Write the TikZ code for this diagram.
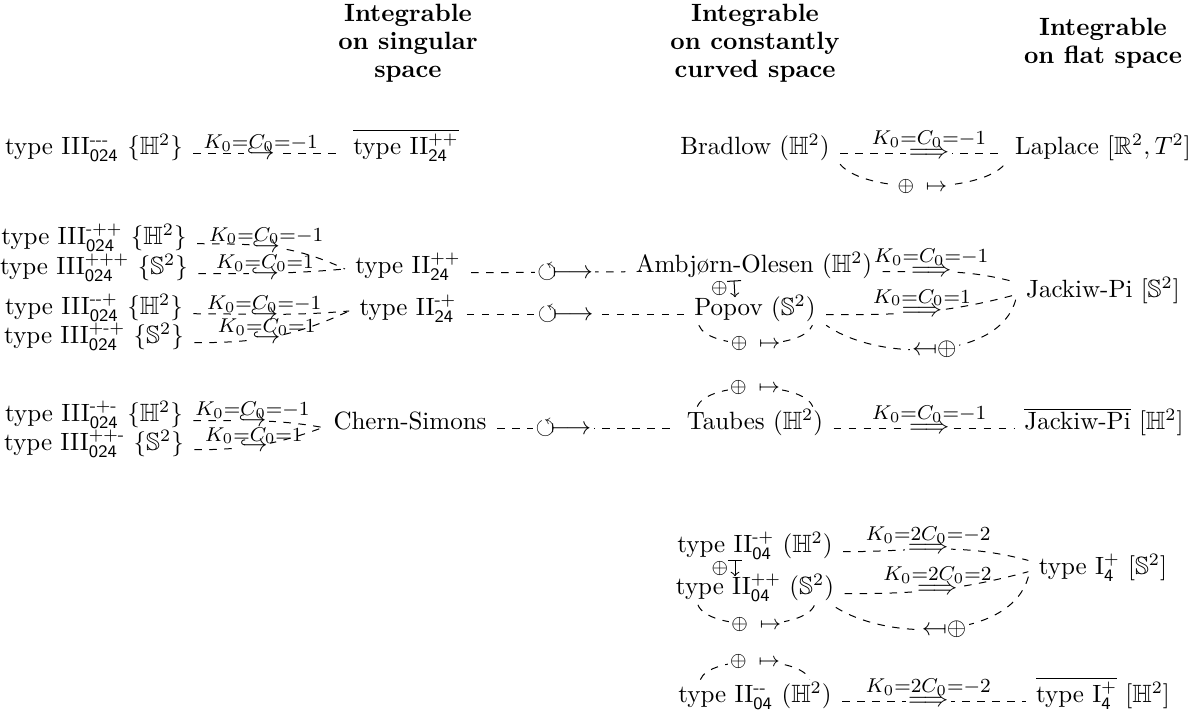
\documentclass[tikz,border=0pt]{standalone}
\usepackage{amsmath,amssymb,graphicx}
\newcommand{\mn}{\textsf{-}}
\newcommand{\pl}{\textsf{+}}
\newcommand{\sfs}[1]{\mathsf{#1}}
\newcommand{\rot}{$\circlearrowleft\!\longmapsto$}
\newcommand{\opl}{$\oplus\;\mapsto$}
\newcommand{\lopl}{$\reflectbox{$\mapsto$}\oplus$}
\tikzset{
  nd/.style={anchor=base, inner xsep=4pt, inner ysep=1pt},
  hd/.style={align=center, inner sep=0pt, font=\bfseries\fontsize{10}{11.2}\selectfont},
  dl/.style={dashed},
  arw/.style={fill=white, inner sep=1pt},
  lbh/.style={anchor=base, inner sep=0pt, font=\footnotesize, yshift=2pt},
  lbd/.style={anchor=base, inner sep=0pt, font=\footnotesize, yshift=3.5pt},
  ops/.style={fill=white, inner sep=1pt, font=\footnotesize},
  opsl/.style={left=1.5pt, inner sep=1pt, font=\footnotesize},
}
\begin{document}
\begin{tikzpicture}[x=0.4pt,y=-0.4pt]
\useasboundingbox (0,0) rectangle (1196,725);
% headers
\node[hd] (h1) at (408,43) {Integrable\\on singular\\space};
\node[hd] (h2) at (755,43) {Integrable\\on constantly\\curved space};
\node[hd] (h3) at (1103,43) {Integrable\\on flat space};
% nodes
\node[nd] (a1) at (94,155) {type III$^{\mn\mn\mn}_{\sfs{024}}$ $\{\mathbb{H}^2\}$};
\node[nd] (b1) at (406,155) {$\overline{\text{type II}^{\pl\pl}_{\sfs{24}}}$};
\node[nd] (c1) at (755,155) {Bradlow ($\mathbb{H}^2$)};
\node[nd] (d1) at (1103,155) {Laplace [$\mathbb{R}^2,T^2$]};
\node[nd] (a2) at (94,245) {type III$^{\mn\pl\pl}_{\sfs{024}}$ $\{\mathbb{H}^2\}$};
\node[nd] (a3) at (94,275) {type III$^{\pl\pl\pl}_{\sfs{024}}$ $\{\mathbb{S}^2\}$};
\node[nd] (a4) at (94,315) {type III$^{\mn\mn\pl}_{\sfs{024}}$ $\{\mathbb{H}^2\}$};
\node[nd] (a5) at (94,344) {type III$^{\pl\mn\pl}_{\sfs{024}}$ $\{\mathbb{S}^2\}$};
\node[nd] (b2) at (408,274) {type II$^{\pl\pl}_{\sfs{24}}$};
\node[nd] (b3) at (408,316) {type II$^{\mn\pl}_{\sfs{24}}$};
\node[nd] (c2) at (754,273) {Ambj\o rn-Olesen ($\mathbb{H}^2$)};
\node[nd] (c3) at (755,316) {Popov ($\mathbb{S}^2$)};
\node[nd] (d2) at (1103,298) {Jackiw-Pi [$\mathbb{S}^2$]};
\node[nd] (a6) at (94,422) {type III$^{\mn\pl\mn}_{\sfs{024}}$ $\{\mathbb{H}^2\}$};
\node[nd] (a7) at (94,451) {type III$^{\pl\pl\mn}_{\sfs{024}}$ $\{\mathbb{S}^2\}$};
\node[nd] (b4) at (410,430) {Chern-Simons};
\node[nd] (c4) at (755,430) {Taubes ($\mathbb{H}^2$)};
\node[nd] (d4) at (1104,430) {$\overline{\text{Jackiw-Pi}}$ [$\mathbb{H}^2$]};
\node[nd] (c5) at (755,553) {type II$^{\mn\pl}_{\sfs{04}}$ ($\mathbb{H}^2$)};
\node[nd] (c6) at (755,595) {type II$^{\pl\pl}_{\sfs{04}}$ ($\mathbb{S}^2$)};
\node[nd] (d5) at (1103,575) {type I$^{\pl}_{\sfs{4}}$ [$\mathbb{S}^2$]};
\node[nd] (c7) at (755,703) {type II$^{\mn\mn}_{\sfs{04}}$ ($\mathbb{H}^2$)};
\node[nd] (d6) at (1103,703) {$\overline{\text{type I}^{\pl}_{\sfs{4}}}$ [$\mathbb{H}^2$]};
% row 1
\draw[dl] ([yshift=.5pt]a1.base east) -- node[pos=.45,arw]{$\hookrightarrow$} node[pos=.45,lbh]{$K_0{=}C_0{=}{-}1$} ([yshift=.5pt]b1.base west);
\draw[dl] ([yshift=.5pt]c1.base east) -- node[pos=.54,arw]{$\Longrightarrow$} node[pos=.54,lbd]{$K_0{=}C_0{=}{-}1$} ([yshift=.5pt]d1.base west);
\draw[dl] (c1.south east) to[out=-50,in=-130,looseness=.6] node[ops]{\opl} (d1.south west);
% left merges
\draw[dl] ([yshift=.5pt]a2.base east) to[out=0,in=155] node[pos=.45,arw]{$\hookrightarrow$} node[pos=.45,lbh]{$K_0{=}C_0{=}{-}1$} ([yshift=2pt]b2.base west);
\draw[dl] ([yshift=.5pt]a3.base east) to[out=0,in=185] node[pos=.45,arw]{$\hookrightarrow$} node[pos=.45,lbh]{$K_0{=}C_0{=}1$} ([yshift=2pt]b2.base west);
\draw[dl] ([yshift=.5pt]a4.base east) to[out=0,in=185] node[pos=.45,arw]{$\hookrightarrow$} node[pos=.45,lbh]{$K_0{=}C_0{=}{-}1$} ([yshift=2pt]b3.base west);
\draw[dl] ([yshift=.5pt]a5.base east) to[out=0,in=205] node[pos=.45,arw]{$\hookrightarrow$} node[pos=.45,lbh]{$K_0{=}C_0{=}1$} ([yshift=2pt]b3.base west);
\draw[dl] ([yshift=.5pt]a6.base east) to[out=0,in=170] node[pos=.45,arw]{$\hookrightarrow$} node[pos=.45,lbh]{$K_0{=}C_0{=}{-}1$} ([yshift=1pt]b4.base west);
\draw[dl] ([yshift=.5pt]a7.base east) to[out=0,in=200] node[pos=.45,arw]{$\hookrightarrow$} node[pos=.45,lbh]{$K_0{=}C_0{=}1$} ([yshift=1pt]b4.base west);
% to middle column
\draw[dl] ([yshift=.5pt]b2.base east) -- node[pos=.61,arw]{\rot} ([yshift=.5pt]c2.base west);
\draw[dl] ([yshift=.5pt]b3.base east) -- node[pos=.455,arw]{\rot} ([yshift=.5pt]c3.base west);
\draw[dl] ([yshift=.5pt]b4.base east) -- node[pos=.37,arw]{\rot} ([yshift=.5pt]c4.base west);
% AO / Popov / Jackiw-Pi
\draw[|->] ([xshift=-8pt,yshift=-3pt]c2.base) -- node[opsl]{$\oplus$} ([xshift=-8pt,yshift=7.5pt]c3.base);
\draw[dl] ([yshift=.5pt]c2.base east) to[out=0,in=165] node[pos=.35,arw]{$\Longrightarrow$} node[pos=.35,lbd]{$K_0{=}C_0{=}{-}1$} ([yshift=3.5pt]d2.west);
\draw[dl] ([yshift=.5pt]c3.base east) to[out=0,in=195] node[pos=.5,arw]{$\Longrightarrow$} node[pos=.5,lbd]{$K_0{=}C_0{=}1$} ([yshift=-1.5pt]d2.west);
\draw[dl] ([yshift=-3.5pt]d2.west) to[out=-105,in=-35,looseness=.85] node[arw]{\lopl} (c3.south east);
\draw[dl] ([xshift=6pt]c3.south west) to[out=-70,in=-110,looseness=.6] node[ops]{\opl} ([xshift=-5.5pt]c3.south east);
% Taubes
\draw[dl] ([xshift=8.4pt]c4.north west) to[out=70,in=110,looseness=.6] node[ops]{\opl} ([xshift=-8.4pt]c4.north east);
\draw[dl] ([yshift=.5pt]c4.base east) -- node[pos=.53,arw]{$\Longrightarrow$} node[pos=.53,lbd]{$K_0{=}C_0{=}{-}1$} ([yshift=.5pt]d4.base west);
% bottom block
\draw[|->] ([xshift=-8pt,yshift=-3pt]c5.base) -- node[opsl]{$\oplus$} ([xshift=-8pt,yshift=7.5pt]c6.base);
\draw[dl] ([yshift=.5pt]c5.base east) to[out=0,in=165] node[pos=.45,arw]{$\Longrightarrow$} node[pos=.45,lbd]{$K_0{=}2C_0{=}{-}2$} ([yshift=3pt]d5.west);
\draw[dl] ([yshift=.5pt]c6.base east) to[out=0,in=195] node[pos=.5,arw]{$\Longrightarrow$} node[pos=.5,lbd]{$K_0{=}2C_0{=}2$} ([yshift=-1.5pt]d5.west);
\draw[dl] ([yshift=-3.5pt]d5.west) to[out=-105,in=-35,looseness=.85] node[arw]{\lopl} ([xshift=-5pt]c6.south east);
\draw[dl] ([xshift=13pt]c6.south west) to[out=-70,in=-110,looseness=.6] node[ops]{\opl} ([xshift=-12pt]c6.south east);
\draw[dl] ([xshift=13pt]c7.north west) to[out=70,in=110,looseness=.6] node[ops]{\opl} ([xshift=-13pt]c7.north east);
\draw[dl] ([yshift=.5pt]c7.base east) -- node[pos=.47,arw]{$\Longrightarrow$} node[pos=.47,lbd]{$K_0{=}2C_0{=}{-}2$} ([yshift=.5pt]d6.base west);
\end{tikzpicture}
\end{document}
